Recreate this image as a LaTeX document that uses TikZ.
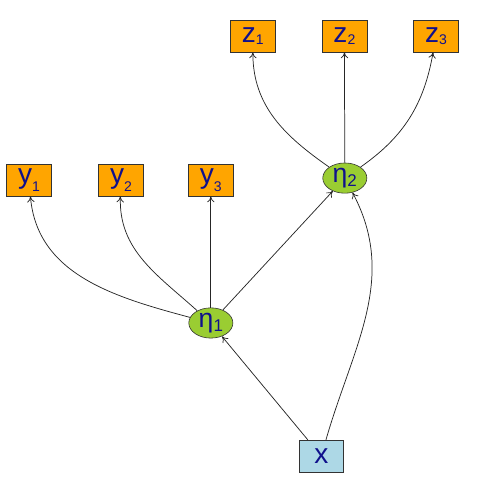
\documentclass[tikz,border=0pt]{standalone}
\usepackage{fontspec}
\setmainfont{Liberation Sans}
\usepackage{tikz}
\usetikzlibrary{shapes.geometric}
\usetikzlibrary{arrows.meta}
\usetikzlibrary{positioning}
\definecolor{indicator}{HTML}{FFA500}
\definecolor{factor}{HTML}{9ACD32}
\definecolor{covariate}{HTML}{ADD8E6}
\definecolor{labelblue}{HTML}{10108C}
\newcommand{\idx}[3][-0.5ex]{#2\raisebox{#1}{\fontsize{9.5pt}{9.5pt}\selectfont #3}}
\tikzset{
% Define standard arrow tip
>={To[length=4pt,width=5pt]},
manifest/.style={rectangle, draw=black!80, inner sep=0,
  minimum height=0.76cm, minimum width=1.07cm,
  fill=indicator, text=labelblue, font=\fontsize{19pt}{19pt}\selectfont},
latent/.style={ellipse, draw=black!80, inner sep=0,
  minimum height=0.72cm, minimum width=1.05cm,
  fill=factor, text=labelblue, font=\fontsize{18pt}{18pt}\selectfont},
path/.style={->, draw=black!85, line width=0.5pt}
}

\begin{document}
\begin{tikzpicture}
  \useasboundingbox (0,0) rectangle (12,12);

  % latent variables
  \node[latent] (eta1) at (5.02,4.31) {\idx[-0.3ex]{η}{\fontsize{11.5pt}{11.5pt}\selectfont 1}};
  \node[latent] (eta2) at (8.21,7.76) {\idx[-0.3ex]{η}{\fontsize{11.5pt}{11.5pt}\selectfont 2}};

  % indicators
  \node[manifest] (y1) at (0.69,7.71) {\idx{y}{1}};
  \node[manifest] (y2) at (2.88,7.71) {\idx{y}{2}};
  \node[manifest] (y3) at (5.02,7.71) {\idx{y}{3}};

  \node[manifest] (z1) at (6.02,11.14) {\idx[-0.15ex]{z}{1}};
  \node[manifest] (z2) at ([xshift=2.18cm]z1.center) {\idx[-0.15ex]{z}{2}};
  \node[manifest] (z3) at ([xshift=2.18cm]z2.center) {\idx[-0.15ex]{z}{3}};

  % covariate
  \node[manifest, fill=covariate] (x) at (7.65,1.14) {x};

  \draw[path] (eta1) to[out=165, in=-85] (y1);
  \draw[path] (eta1) to[out=138, in=-92] (y2);
  \draw[path] (eta1) -- (y3);
  \draw[path] (eta1) -- (eta2);

  \draw[path] (eta2) to[out=145, in=-90] (z1);
  \draw[path] (eta2) -- (z2);
  \draw[path] (eta2) to[out=35, in=-100] (z3);

  \draw[path] (x) -- (eta1);
  \draw[path] (x) to[out=74, in=-62] (eta2);
\end{tikzpicture}
\end{document}
